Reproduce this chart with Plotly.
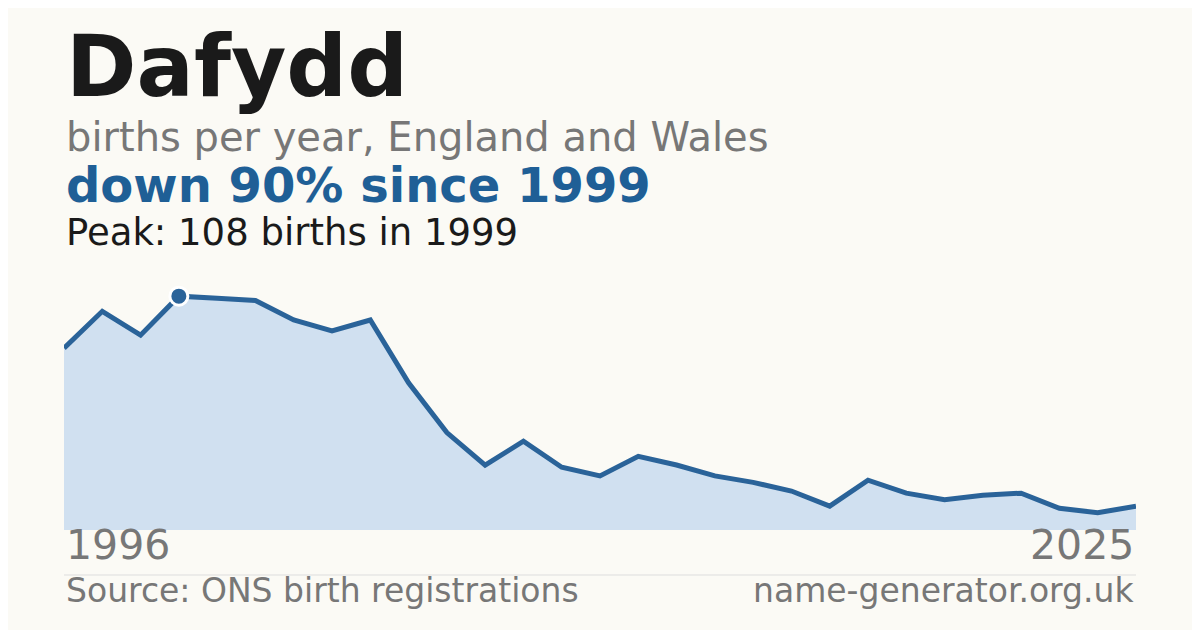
import plotly.graph_objects as go

years = list(range(1996, 2025))
births = [84, 101, 90, 108, 107, 106, 97, 92, 97, 68, 45, 30, 41, 29, 25, 34, 30, 25, 22, 18,
          11, 23, 17, 14, 16, 17, 10, 8, 11]
peak_year = 1999
peak_value = 108
start_label = "1996"
end_label = "2025"

BG = "#fbfaf5"
BLUE = "#2a6399"
FONT = "DejaVu Sans"
OFF = 8  # page offset in the browser

# plot area: x 64..1136, y 281..530 (pixels, as seen)
T, B = 281 - OFF, 100 + OFF
H = 630 - T - B


def py(ypx):
    # pixel y -> paper y
    return (530 - ypx) / H


fig = go.Figure()
fig.add_trace(go.Scatter(x=years, y=births, mode="lines", fill="tozeroy",
                         fillcolor="#d0e0f0", line=dict(color=BLUE, width=5),
                         hoverinfo="skip"))
fig.add_trace(go.Scatter(x=[peak_year], y=[peak_value], mode="markers",
                         marker=dict(size=18, color=BLUE, line=dict(color="white", width=3)),
                         cliponaxis=False, hoverinfo="skip"))

ann = [
    dict(text="<b>Dafydd</b>", y=py(118), size=85, color="#1a1a1a"),
    dict(text="births per year, England and Wales", y=py(162), size=40, color="#777777"),
    dict(text="<b>down 90% since 1999</b>", y=py(215), size=48, color="#1f5f96"),
    dict(text="Peak: 108 births in 1999", y=py(256), size=37, color="#1a1a1a"),
    dict(text=start_label, y=py(571), size=41, color="#777777"),
    dict(text="Source: ONS birth registrations", y=py(612), size=33, color="#777777"),
]
for a in ann:
    fig.add_annotation(text=a["text"], x=0, xref="paper", y=a["y"], yref="paper",
                       xanchor="left", yanchor="bottom", showarrow=False,
                       font=dict(family=FONT, size=a["size"], color=a["color"]))
for text, ypx, size in [(end_label, 571, 41), ("name-generator.org.uk", 612, 33)]:
    fig.add_annotation(text=text, x=1, xref="paper", y=py(ypx), yref="paper",
                       xanchor="right", yanchor="bottom", showarrow=False,
                       font=dict(family=FONT, size=size, color="#777777"))

fig.add_shape(type="line", xref="paper", yref="paper", x0=0, x1=1, y0=py(575), y1=py(575),
              line=dict(color="#dddddd", width=1))

fig.update_layout(
    width=1200, height=630, showlegend=False,
    paper_bgcolor=BG, plot_bgcolor=BG,
    margin=dict(l=64 - OFF, r=64 + OFF, t=T, b=B),
    xaxis=dict(range=[years[0], years[-1]], visible=False),
    yaxis=dict(range=[0, 115], visible=False),
)
fig.write_html("out.html")
